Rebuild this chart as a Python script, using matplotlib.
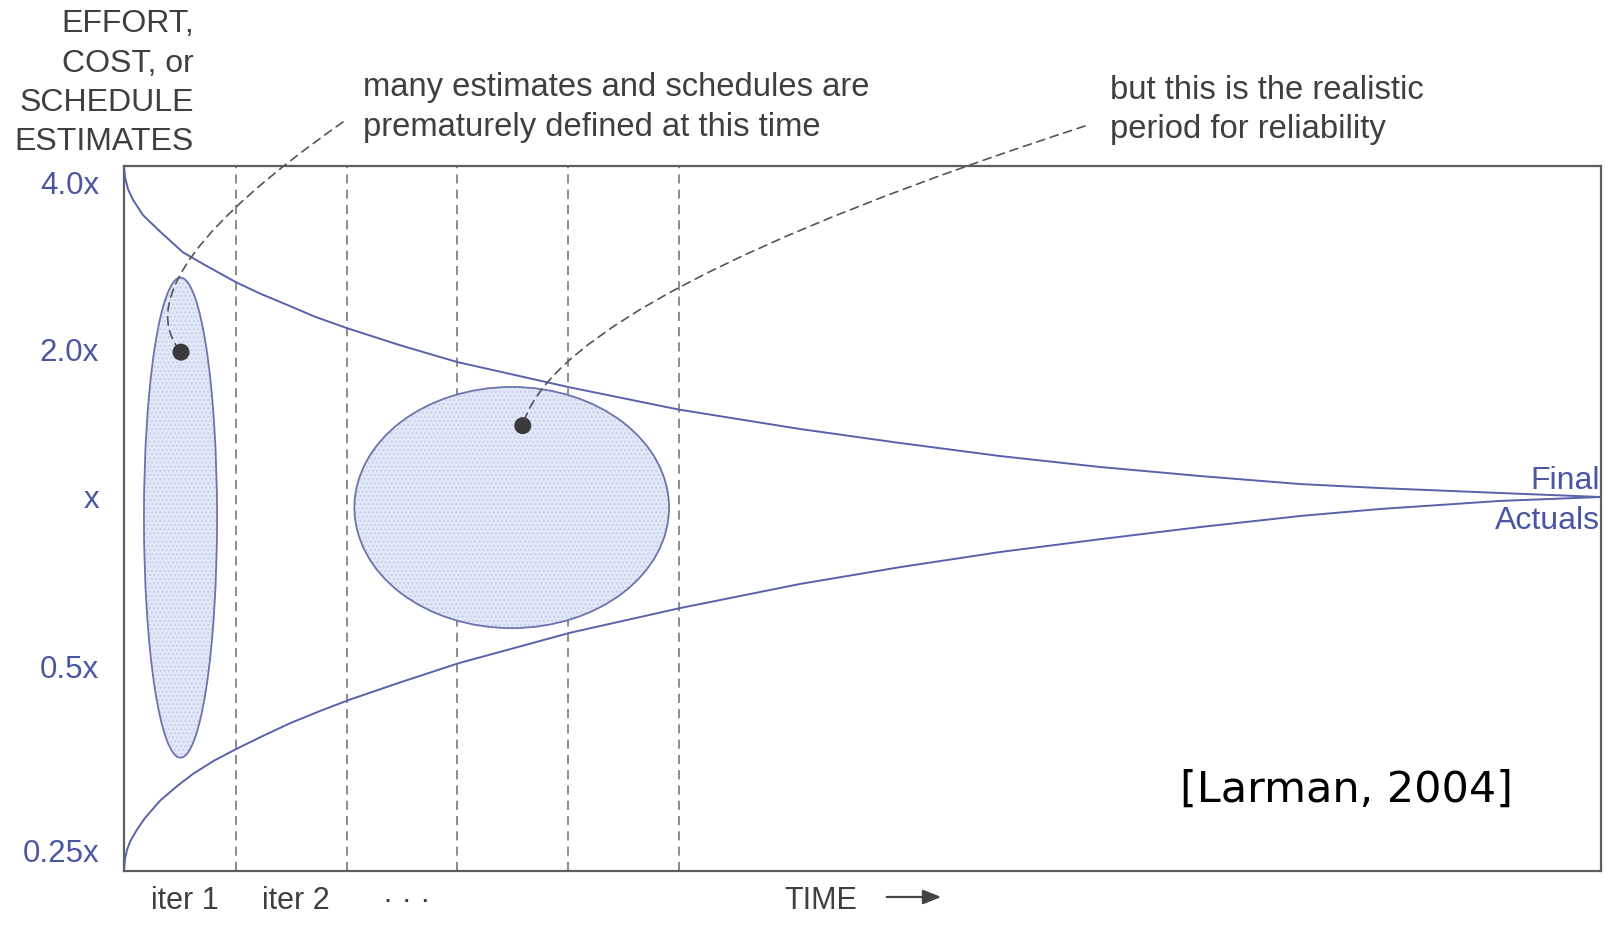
import numpy as np
import matplotlib
matplotlib.use("Agg")
import matplotlib.pyplot as plt
from matplotlib.patches import Ellipse, FancyArrowPatch
from matplotlib.transforms import Affine2D, blended_transform_factory
from matplotlib.ticker import FixedLocator, FixedFormatter, NullLocator

# ---------------- data ----------------
# time axis runs 0..100 (arbitrary units)
upper_t = [0.0, 0.07, 0.27, 0.61, 1.29, 2.44, 3.99, 5.42, 7.58, 9.21, 11.24, 12.93, 15.10,
           18.69, 22.55, 30.06, 37.58, 45.77, 52.54, 59.31, 66.08, 72.85, 79.62, 85.04,
           93.16, 100.0]
upper_v = [4.29, 4.10, 3.90, 3.73, 3.50, 3.27, 3.00, 2.852, 2.65, 2.528, 2.40, 2.296, 2.19,
           2.04, 1.89, 1.68, 1.51, 1.378, 1.290, 1.213, 1.152, 1.104, 1.063, 1.043,
           1.019, 1.00]

lower_t = [0.0, 0.07, 0.20, 0.41, 0.88, 1.42, 2.44, 3.59, 4.67, 6.09, 7.72, 9.48, 11.24,
           13.27, 15.23, 18.69, 22.68, 30.20, 37.64, 45.77, 52.54, 59.31, 66.08, 72.85,
           79.62, 85.04, 93.16, 100.0]
lower_v = [0.231, 0.242, 0.250, 0.258, 0.270, 0.282, 0.301, 0.318, 0.333, 0.350, 0.367,
           0.385, 0.403, 0.422, 0.440, 0.470, 0.506, 0.573, 0.634, 0.700, 0.750, 0.798,
           0.841, 0.884, 0.925, 0.952, 0.984, 1.00]

iteration_bounds = [0.0, 7.58, 15.10, 22.55, 30.06, 37.58]
iteration_labels = ["iter 1", "iter 2", "· · ·"]

ytick_values = [0.25, 0.5, 1.0, 2.0, 4.0]
ytick_labels = ["0.25x", "0.5x", "x", "2.0x", "4.0x"]

# estimate ranges (time span, value span)
ellipse_t = [(1.35, 6.30), (15.6, 36.9)]
ellipse_v = [(0.354, 2.70), (0.584, 1.68)]

dots_t = [3.86, 27.0]
dots_v = [1.98, 1.40]

note_early = "many estimates and schedules are\nprematurely defined at this time"
note_late = "but this is the realistic\nperiod for reliability"
header_lines = ["EFFORT,", "COST, or", "SCHEDULE", "ESTIMATES"]

# ---------------- styling ----------------
W, H = 1615, 930
BLUE = "#4b56a3"
CURVE = "#5862aa"
TXT = "#3f3f3f"
FONT = "Liberation Sans"

# piecewise log scale matching the (hand drawn) tick spacing
_knot_L = np.array([-3, -2, -1, 0, 1, 2, 3], dtype=float)
_knot_u = np.array([-163, 21, 205, 374, 521, 688, 855], dtype=float)


def fwd(v):
    v = np.asarray(v, dtype=float)
    L = np.log2(np.maximum(v, 1e-12))
    return np.interp(L, _knot_L, _knot_u)


def inv(u):
    u = np.asarray(u, dtype=float)
    return 2.0 ** np.interp(u, _knot_u, _knot_L)


fig = plt.figure(figsize=(W / 100, H / 100), dpi=100)
fig.patch.set_facecolor("white")
ax_left, ax_right, ax_top, ax_bot = 124, 1601, 166, 871
ax = fig.add_axes([ax_left / W, 1 - ax_bot / H, (ax_right - ax_left) / W, (ax_bot - ax_top) / H])

ax.set_yscale("function", functions=(fwd, inv))
u_lo, u_hi = 0.0, 705.0
ax.set_ylim(float(inv(u_lo)), float(inv(u_hi)))
ax.set_xlim(0, 100)

for s in ax.spines.values():
    s.set_color("#5e5e5e")
    s.set_linewidth(1.6)

ax.yaxis.set_major_locator(FixedLocator(ytick_values))
ax.yaxis.set_major_formatter(FixedFormatter(ytick_labels))
ax.yaxis.set_minor_locator(NullLocator())
ax.tick_params(axis="y", length=0, pad=18, labelsize=22.5, labelcolor=BLUE)
for lab in ax.get_yticklabels():
    lab.set_fontfamily(FONT)
ax.set_xticks([])

# iteration boundaries
for b in iteration_bounds[1:]:
    ax.axvline(b, color="#6e6e6e", lw=1.1, linestyle=(0, (6, 4)), zorder=1)

# ellipses in (time, scale-space) coordinates
tr_u = Affine2D().scale(1 / 100.0, 1 / (u_hi - u_lo)) + ax.transAxes
for (t0, t1), (v0, v1) in zip(ellipse_t, ellipse_v):
    uc0, uc1 = float(fwd(v0)), float(fwd(v1))
    center = ((t0 + t1) / 2, (uc0 + uc1) / 2)
    ax.add_patch(Ellipse(center, t1 - t0, uc1 - uc0, transform=tr_u,
                         facecolor="#e3e8f7", edgecolor="#c6cfec", hatch="....",
                         lw=0, zorder=2))
    ax.add_patch(Ellipse(center, t1 - t0, uc1 - uc0, transform=tr_u,
                         fill=False, edgecolor="#6c74ad", lw=1.3, zorder=3))

# cone curves
ax.plot(upper_t, upper_v, color=CURVE, lw=1.4, zorder=4, solid_joinstyle="round")
ax.plot(lower_t, lower_v, color=CURVE, lw=1.4, zorder=4, solid_joinstyle="round")

# dots
ax.scatter(dots_t, dots_v, s=150, color="#3a3a3a", zorder=6, edgecolor="none")

# leader lines
leader_style = dict(arrowstyle="-", linestyle=(0, (5, 3.5)), color="#555555", lw=1.2,
                    shrinkA=0, shrinkB=5)
ax.annotate("", xy=(dots_t[0], dots_v[0]), xycoords="data",
            xytext=(343, H - 122), textcoords="figure pixels",
            arrowprops=dict(connectionstyle="angle3,angleA=35,angleB=-50", **leader_style),
            annotation_clip=False, zorder=5)
ax.annotate("", xy=(dots_t[1], dots_v[1]), xycoords="data",
            xytext=(1085, H - 126), textcoords="figure pixels",
            arrowprops=dict(connectionstyle="angle3,angleA=18,angleB=75", **leader_style),
            annotation_clip=False, zorder=5)


def ftext(x, y, s, **kw):
    fig.text(x / W, 1 - y / H, s, **kw)


# header
for yy, line in zip([24, 64, 103, 142], header_lines):
    ftext(194, yy, line, ha="right", va="center", fontsize=23, color=TXT, family=FONT)

# notes
ftext(363, 107.5, note_early, ha="left", va="center", fontsize=23.6, color=TXT,
      family=FONT, linespacing=1.36)
ftext(1110, 110, note_late, ha="left", va="center", fontsize=23.6, color=TXT,
      family=FONT, linespacing=1.36)

# Final Actuals
ftext(1600, 489, "Final", ha="right", va="baseline", fontsize=23, color=BLUE, family=FONT)
ftext(1600, 529, "Actuals", ha="right", va="baseline", fontsize=23, color=BLUE, family=FONT)

# iteration labels, placed at iteration mid-points
btr = blended_transform_factory(ax.transData, fig.transFigure)
for i, lab in enumerate(iteration_labels):
    mid = (iteration_bounds[i] + iteration_bounds[i + 1]) / 2
    ax.text(mid + 0.3, 1 - 909 / H, lab, transform=btr, ha="center", va="baseline",
            fontsize=22, color=TXT, family=FONT, clip_on=False)

# TIME arrow
ftext(821, 909, "TIME", ha="center", va="baseline", fontsize=22, color=TXT, family=FONT)
fig.add_artist(FancyArrowPatch(
    (884, H - 897), (944, H - 897), transform=None,
    arrowstyle="-|>,head_length=0.55,head_width=0.22", mutation_scale=20,
    color="#444444", lw=1.6))

# citation
ftext(1347, 790, "[Larman, 2004]", ha="center", va="center", fontsize=31,
      color="black", family="DejaVu Sans")

fig.savefig("out.png", dpi=100, facecolor="white")
